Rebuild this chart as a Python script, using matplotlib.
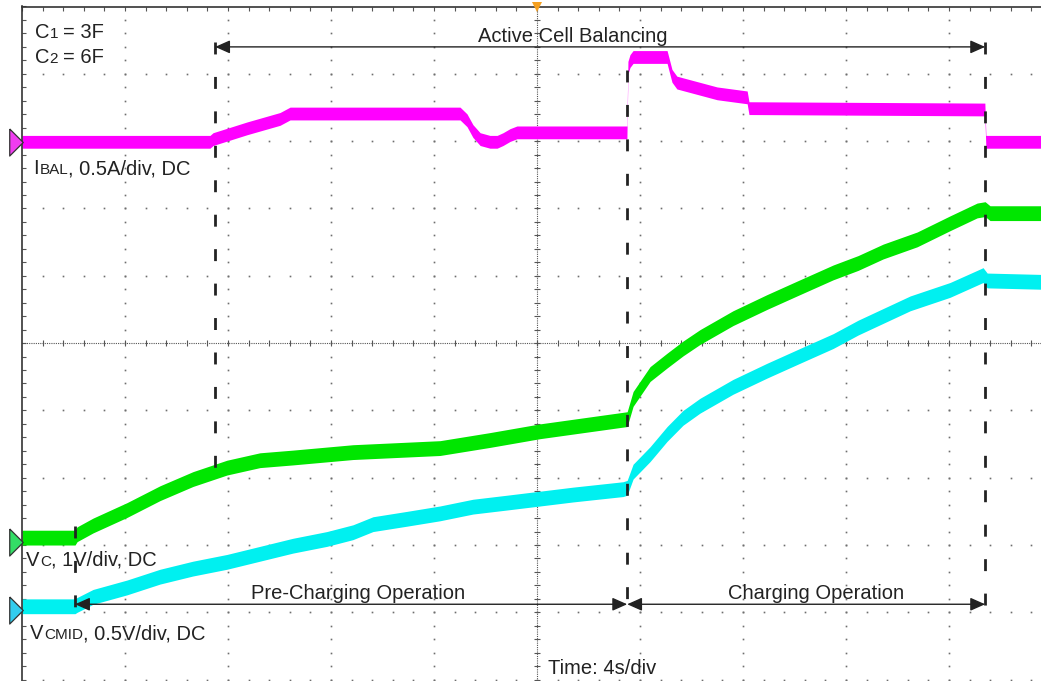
import numpy as np
import matplotlib.pyplot as plt
from matplotlib.transforms import offset_copy

plt.rcParams['font.family'] = ['Liberation Sans', 'DejaVu Sans']

# scope settings: 4 s/div horizontally, vertical scale per channel
time_per_div = 4.0
ibal_scale, vc_scale, vcmid_scale = 0.5, 1.0, 0.5      # A/div, V/div, V/div
ibal_ground, vc_ground, vcmid_ground = 2.99, -2.96, -3.97   # ground marker (div)

# I_BAL (A)
t_ibal = [0.00, 7.30, 7.42, 8.74, 10.02, 10.41, 17.01, 17.28, 17.51, 17.79, 18.17,
          18.45, 18.68, 18.95, 19.22, 23.49, 23.53, 23.61, 23.73, 25.05, 25.24, 25.43,
          25.82, 26.99, 28.16, 28.23, 37.39, 37.43, 39.57]
ibal = [0.00, 0.00, 0.02, 0.10, 0.17, 0.21, 0.21, 0.16, 0.08, 0.02, 0.00,
        0.00, 0.02, 0.05, 0.07, 0.07, 0.55, 0.60, 0.63, 0.63, 0.49, 0.44,
        0.42, 0.36, 0.33, 0.25, 0.24, 0.00, 0.00]

# V_C (V)
t_vc = [0.00, 2.06, 2.14, 2.76, 4.08, 5.36, 6.64, 7.96, 9.24, 10.52, 12.85, 16.23,
        18.17, 20.12, 23.50, 23.73, 24.39, 25.05, 25.67, 26.33, 27.61, 28.93, 30.21,
        31.50, 32.47, 33.44, 34.76, 36.04, 37.09, 37.40, 37.59, 39.57]
vc = [0.07, 0.07, 0.12, 0.25, 0.48, 0.73, 0.94, 1.11, 1.22, 1.26, 1.34, 1.40,
      1.52, 1.65, 1.83, 2.13, 2.50, 2.70, 2.88, 3.05, 3.33, 3.57, 3.79,
      4.01, 4.15, 4.32, 4.50, 4.74, 4.93, 4.95, 4.89, 4.89]

# V_CMID (V)
t_vcmid = [0.00, 2.06, 2.14, 2.76, 4.08, 5.36, 6.64, 7.96, 9.24, 10.52, 11.84, 12.85,
           13.63, 14.95, 16.23, 17.51, 18.83, 20.12, 21.40, 23.34, 23.50, 23.73, 24.39,
           25.05, 25.67, 26.33, 27.61, 28.93, 30.21, 31.50, 32.47, 34.49, 36.04, 37.09,
           37.32, 37.48, 39.57]
vcmid = [0.03, 0.03, 0.04, 0.10, 0.17, 0.25, 0.31, 0.36, 0.42, 0.48, 0.53, 0.58,
         0.64, 0.68, 0.72, 0.77, 0.80, 0.83, 0.86, 0.90, 0.91, 1.03, 1.16,
         1.31, 1.43, 1.52, 1.66, 1.78, 1.89, 2.00, 2.10, 2.28, 2.38, 2.47,
         2.49, 2.45, 2.44]

# phase boundaries (s)
t_precharge, t_balance, t_charge, t_end = 2.06, 7.50, 23.50, 37.40

W, H = 1041, 681
fig = plt.figure(figsize=(W / 100, H / 100), dpi=100)
ax = fig.add_axes([22 / W, 0, 1 - 22 / W, (H - 6.5) / H])
ax.set_xlim(0, 39.57)
ax.set_ylim(-5.02, 5.0)

# graticule
dot = dict(ls='none', marker='s', ms=1.2, mew=0, color='#6e6e6e', zorder=1)
xm = np.arange(0.8, 39.6, 0.8)
for r in [-5, -4, -3, -2, -1, 1, 2, 3, 4]:
    ax.plot(xm, np.full_like(xm, r), **dot)
ym = np.arange(-5, 5.0, 0.2)
for c in [4, 8, 12, 16, 24, 28, 32, 36]:
    ax.plot(np.full_like(ym, c), ym, **dot)
ax.axhline(0, color='#555555', lw=0.8, ls=(0, (1, 1)), zorder=1)
ax.axvline(20, color='#555555', lw=0.8, ls=(0, (1, 1)), zorder=1)
ax.plot(xm, np.zeros_like(xm), ls='none', marker='|', ms=5, mew=0.8,
        color='#555555', zorder=1)
ax.plot(np.full_like(ym, 20), ym, ls='none', marker='_', ms=5, mew=0.8,
        color='#555555', zorder=1)

for s in ['right', 'bottom']:
    ax.spines[s].set_visible(False)
for s in ['left', 'top']:
    ax.spines[s].set_color('#333333')
    ax.spines[s].set_linewidth(1.2)
ax.set_xticks(np.arange(0, 39.6, 0.8))
ax.set_yticks(np.arange(-5, 5.01, 0.2))
ax.tick_params(axis='both', direction='in', length=3, width=0.8, color='#555555',
               top=True, bottom=False, left=True, right=False,
               labelbottom=False, labelleft=False)

# traces
traces = [
    (t_ibal, ibal, ibal_ground, ibal_scale, '#ff00ff', 0.095),
    (t_vc, vc, vc_ground, vc_scale, '#00e600', 0.11),
    (t_vcmid, vcmid, vcmid_ground, vcmid_scale, '#00f0f0', 0.11),
]
for t, v, g, sc, col, half in traces:
    y = g + np.array(v) / sc
    ax.fill_between(t, y - half, y + half, color=col, lw=0, zorder=2)

# ground markers
tri = [(-1, 2), (-1, -2), (1, 0), (-1, 2)]
for g, col in [(ibal_ground, '#f03cf0'), (vc_ground, '#33dd66'), (vcmid_ground, '#33ccee')]:
    ax.plot([-0.25], [g], marker=tri, ms=19.5, mfc=col, mec='#333333', mew=0.9,
            clip_on=False, zorder=6)
ax.plot([20], [4.99], marker='v', ms=7, color='#f5a020', mew=0, clip_on=False, zorder=6)

# phase markers
dash = dict(color='#222222', lw=2, dashes=(4.3, 8.1), zorder=3)
ax.plot([t_balance, t_balance], [4.47, -1.87], **dash)
ax.plot([t_precharge, t_precharge], [-2.72, -4.02], **dash)
ax.plot([t_charge, t_charge], [4.05, -4.02], **dash)
ax.plot([t_end, t_end], [4.47, -4.02], **dash)

arrow = dict(arrowstyle='<|-|>,head_length=0.9,head_width=0.4', mutation_scale=10,
             color='#222222', lw=1.0, shrinkA=0, shrinkB=0)
y_top, y_bot = 4.40, -3.88
ax.annotate('', xy=(t_end, y_top), xytext=(t_balance, y_top), arrowprops=arrow, zorder=4)
ax.annotate('', xy=(t_charge, y_bot), xytext=(t_precharge, y_bot), arrowprops=arrow, zorder=4)
ax.annotate('', xy=(t_end, y_bot), xytext=(t_charge, y_bot), arrowprops=arrow, zorder=4)

txt = dict(color='#222222', va='baseline', zorder=5)
L, S = 14.5, 11
ax.text(21.40, 4.47, 'Active Cell Balancing', fontsize=L, ha='center', **txt)
ax.text(13.05, -3.80, 'Pre-Charging Operation', fontsize=L, ha='center', **txt)
ax.text(30.83, -3.80, 'Charging Operation', fontsize=L, ha='center', **txt)
ax.text(20.43, -4.92, 'Time: 4s/div', fontsize=L, ha='left', **txt)

renderer = fig.canvas.get_renderer()


def mixed(x, y, parts):
    dx = 0
    for s, size, gap in parts:
        dx += gap
        tr = offset_copy(ax.transData, fig=fig, x=dx, y=0, units='dots')
        t = ax.text(x, y, s, fontsize=size, ha='left', transform=tr, **txt)
        dx += t.get_window_extent(renderer).width


mixed(0.50, 4.53, [('C', L, 0), ('1', S, 0), ('= 3F', L, 5)])
mixed(0.50, 4.16, [('C', L, 0), ('2', S, 0), ('= 6F', L, 5)])
mixed(0.43, 2.51, [('I', L, 0), ('BAL', S, 1.0), (', 0.5A/div, DC', L, 0)])
mixed(0.16, -3.31, [('V', L, 0), ('C', S, 0.5), (', 1V/div, DC', L, 0)])
mixed(0.31, -4.40, [('V', L, 0), ('CMID', S, 0.5), (', 0.5V/div, DC', L, 0)])

fig.savefig('out.png', dpi=100, facecolor='white')
